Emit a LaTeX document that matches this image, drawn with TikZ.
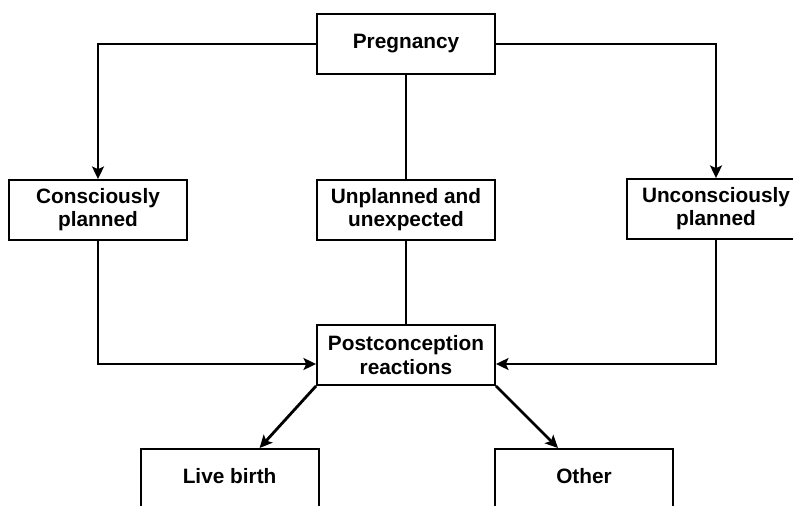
\documentclass[tikz,border=0pt]{standalone}
\usepackage{fontspec}
\setmainfont{Liberation Sans}
\usetikzlibrary{arrows.meta}

\begin{document}
\begin{tikzpicture}[
    box/.style={draw, line width=1.3pt, minimum width=4.45cm, minimum height=1.5cm,
        align=center, inner sep=2pt, font=\fontsize{14.8}{16.5}\selectfont\bfseries},
    openbox/.style={box, anchor=north, inner ysep=0.5cm, text height=0.36cm, text depth=0.6cm},
    link/.style={line width=2pt},
    arrow/.style={link, -{Stealth[length=9pt, width=8.5pt, inset=2pt]}}
]
    \clip (0,0) rectangle (19.825,-12.65);

    % Boxes
    \node[box] (preg) at (10.15,-1.1) {Pregnancy};
    \node[box] (cons) at (2.45,-5.25) {Consciously\\planned};
    \node[box] (unpl) at (10.15,-5.25) {Unplanned and\\unexpected};
    \node[box] (uncons) at (17.9,-5.225) {Unconsciously\\planned};
    \node[box] (post) at (10.15,-8.875) {Postconception\\reactions};
    \node[openbox] (live) at (5.74,-11.2) {Live birth};
    \node[openbox] (other) at (14.6,-11.2) {Other};

    % Connectors
    \draw[arrow] (preg.west) -| (cons.north);
    \draw[arrow] (preg.east) -| (uncons.north);
    \draw[link] (preg.south) -- (unpl.north);
    \draw[link] (unpl.south) -- (post.north);
    \draw[arrow] (cons.south) |- ([yshift=-0.225cm]post.west);
    \draw[arrow] (uncons.south) |- ([yshift=-0.225cm]post.east);
    \draw[arrow] (post.south west) -- ([xshift=0.75cm]live.north);
    \draw[arrow] (post.south east) -- ([xshift=-0.65cm]other.north);
\end{tikzpicture}
\end{document}
